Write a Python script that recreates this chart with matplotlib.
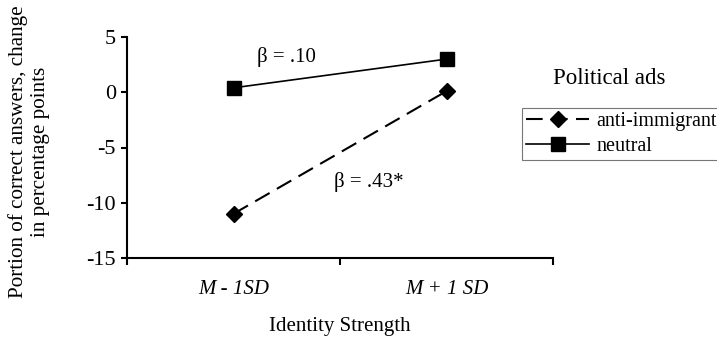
import matplotlib.pyplot as plt

# data
categories = ['M - 1SD', 'M + 1 SD']
anti_immigrant = [-11.0, 0.1]
neutral = [0.4, 3.0]

plt.rcParams['font.family'] = ['Liberation Serif', 'DejaVu Serif']
plt.rcParams['font.size'] = 15

fig = plt.figure(figsize=(7.17, 3.41), dpi=100)
ax = fig.add_axes([127 / 717, 1 - 258 / 341, 426 / 717, 221 / 341])

xpos = [i + 0.5 for i in range(len(categories))]
ax.plot(xpos, anti_immigrant, color='black', lw=1.5, linestyle=(0, (8, 4)),
        marker='D', markersize=8, label='anti-immigrant')
ax.plot(xpos, neutral, color='black', lw=1.2,
        marker='s', markersize=9.5, label='neutral')

ax.set_xlim(0, len(categories))
ax.set_ylim(-15, 5)
ax.set_yticks([5, 0, -5, -10, -15])
ax.set_yticklabels(['5', '0', '-5', '-10', '-15'], fontsize=16)
ax.set_xticks(range(len(categories) + 1))
ax.set_xticklabels([])
ax.set_xticks(xpos, minor=True)
ax.set_xticklabels(categories, minor=True, fontstyle='italic')
ax.tick_params(axis='x', which='minor', length=0, pad=16)
ax.tick_params(axis='x', which='major', length=5, width=1.5, direction='out')
ax.tick_params(axis='y', length=4, width=1.5, direction='out', pad=4)

for s in ['top', 'right']:
    ax.spines[s].set_visible(False)
for s in ['left', 'bottom']:
    ax.spines[s].set_linewidth(1.5)

ax.set_xlabel('Identity Strength', labelpad=13)
fig.text(29 / 717, 1 - 152 / 341,
         'Portion of correct answers, change\nin percentage points',
         rotation=90, ha='center', va='center', multialignment='center',
         fontsize=15.2, linespacing=1.2)

ax.text(0.61, 3.2, 'β = .10', va='center')
ax.text(0.97, -8.1, 'β = .43*', va='center')

fig.text(553 / 717, 1 - 78 / 341, 'Political ads', fontsize=16.5, va='center')
leg = fig.legend(loc='upper left', bbox_to_anchor=(522 / 717, 1 - 108 / 341),
                 frameon=True, fancybox=False, handlelength=3.15,
                 handletextpad=0.35, borderpad=0.2, borderaxespad=0,
                 labelspacing=0.3, fontsize=14.5)
leg.get_frame().set_edgecolor('#555555')
leg.get_frame().set_linewidth(0.8)

fig.savefig('out.png', dpi=100)
